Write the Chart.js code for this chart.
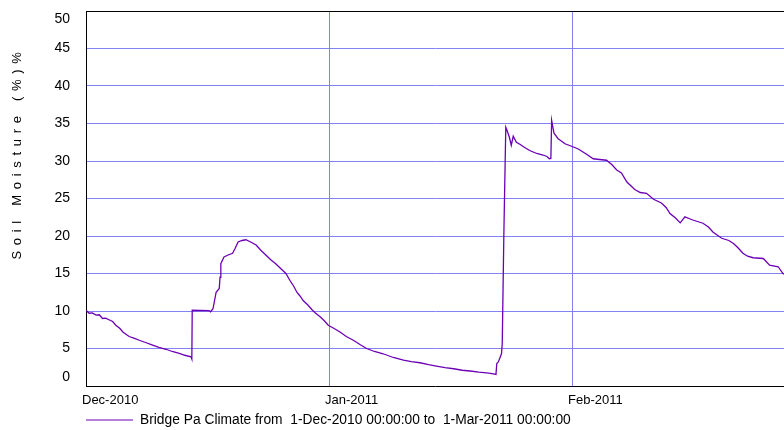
<!DOCTYPE html>
<html>
<head>
<meta charset="utf-8">
<script src="https://cdn.jsdelivr.net/npm/chart.js@4/dist/chart.umd.min.js"></script>
<style>
  html, body { margin: 0; padding: 0; background: #fff; }
  #wrap { width: 784px; height: 430px; position: relative; }
</style>
</head>
<body>
<div id="wrap"><canvas id="soilCanvas"></canvas></div>
<script>
// days since 1-Dec-2010 00:00
const days = [
  0, 0.4, 0.8, 1.3, 1.7, 2.1, 2.5, 3.0, 3.4, 3.8, 4.3, 4.7, 5.1, 5.5, 6.2, 6.8, 7.6, 8.5, 9.3, 10.2,
  11.0, 11.9, 12.6, 13.4, 13.5, 13.55, 15.7, 15.9, 16.2, 16.6, 17.0, 17.1, 17.2, 17.6, 18.2, 18.7, 19.0, 19.4, 19.9, 20.4,
  21.0, 21.7, 22.3, 23.0, 23.6, 24.2, 24.9, 25.5, 26.0, 26.5, 26.9, 27.3, 27.7, 28.3, 28.8, 29.3, 29.9, 30.4, 30.9, 31.6,
  32.4, 33.2, 34.1, 35.0, 35.8, 36.8, 37.9, 39.2, 40.5, 41.5, 42.6, 43.7, 44.7, 45.8, 46.9, 48.0, 49.0, 50.1, 51.1, 51.8,
  52.3, 52.4, 52.6, 53.0, 53.1, 53.3, 53.55, 53.7, 54.0, 54.25, 54.5, 54.9, 55.4, 55.8, 56.6, 57.5, 58.3, 58.8, 59.1, 59.3,
  59.4, 59.7, 60.2, 61.1, 62.1, 62.8, 63.4, 64.0, 64.7, 65.5, 66.4, 67.1, 67.7, 68.3, 69.0, 70.0, 70.7, 71.5, 72.4, 73.4,
  74.0, 74.5, 75.2, 75.8, 76.4, 77.0, 77.5, 78.7, 79.4, 80.0, 81.1, 82.0, 82.6, 83.2, 83.8, 84.4, 85.1, 86.4, 87.2, 88.3,
  88.9, 89.1
];
const moisture = [
  10.1, 9.7, 9.75, 9.45, 9.5, 9.0, 9.05, 8.8, 8.6, 8.1, 7.7, 7.2, 6.9, 6.6, 6.35, 6.1, 5.8, 5.45, 5.15, 4.9,
  4.6, 4.35, 4.1, 3.9, 3.6, 10.1, 10.05, 9.9, 10.3, 12.5, 13.0, 14.5, 16.3, 17.2, 17.5, 17.7, 18.3, 19.2, 19.4, 19.5,
  19.2, 18.8, 18.1, 17.4, 16.8, 16.3, 15.6, 15.0, 14.1, 13.3, 12.5, 12.0, 11.4, 10.8, 10.2, 9.7, 9.2, 8.7, 8.1, 7.7,
  7.2, 6.6, 6.1, 5.5, 5.0, 4.6, 4.3, 3.8, 3.45, 3.25, 3.1, 2.85, 2.65, 2.45, 2.3, 2.1, 2.0, 1.85, 1.75, 1.65,
  1.55, 3.0, 3.2, 4.3, 5.7, 20, 34.5, 34.1, 33.2, 32.1, 33.3, 32.5, 32.2, 31.9, 31.4, 31.0, 30.8, 30.6, 30.3, 30.35,
  35.4, 33.7, 33.0, 32.3, 31.9, 31.6, 31.2, 30.8, 30.3, 30.2, 30.1, 29.5, 28.8, 28.4, 27.2, 26.2, 25.8, 25.7, 24.9, 24.4,
  23.8, 23.0, 22.4, 21.75, 22.55, 22.3, 22.1, 21.7, 21.2, 20.5, 19.7, 19.4, 19.0, 18.4, 17.7, 17.3, 17.1, 17.0, 16.1, 15.9,
  15.0, 14.9
];

const monthTicks = [0, 31, 62];
const monthLabels = ["Dec-2010", "Jan-2011", "Feb-2011"];
const yTicks = [0, 5, 10, 15, 20, 25, 30, 35, 40, 45, 50];

const seriesLabel = "Bridge Pa Climate from  1-Dec-2010 00:00:00 to  1-Mar-2011 00:00:00";
const yTitle = "Soil Moisture (%)%";

const FONT = '"Liberation Sans", Arial, sans-serif';
const LINE_COLOR = "#6c00b4";
const GRID_COLOR = "#8282f2";
const NONE = "rgba(0,0,0,0)";

Chart.defaults.font.family = FONT;

// frame, y labels, rotated title and legend are drawn here
const decorPlugin = {
  id: "decor",
  beforeDraw(chart) {
    const c = chart.ctx;
    c.save();
    c.fillStyle = "#fff";
    c.fillRect(0, 0, chart.width, chart.height);
    c.restore();
  },
  afterDraw(chart) {
    const c = chart.ctx;
    const a = chart.chartArea;
    const ys = chart.scales.y;
    c.save();

    // top border
    c.strokeStyle = "#000";
    c.lineWidth = 1;
    c.beginPath();
    c.moveTo(a.left, a.top + 0.5);
    c.lineTo(a.right, a.top + 0.5);
    c.stroke();

    // y tick labels, end ones kept inside the plot
    c.fillStyle = "#000";
    c.font = "14px " + FONT;
    c.textAlign = "right";
    c.textBaseline = "middle";
    yTicks.forEach(v => {
      let py = ys.getPixelForValue(v);
      py = Math.min(Math.max(py, a.top + 8.5), a.bottom - 9);
      c.fillText(String(v), 70, py);
    });

    // y title
    c.save();
    c.translate(17, 156);
    c.rotate(-Math.PI / 2);
    c.font = "13px " + FONT;
    c.textAlign = "center";
    c.textBaseline = "middle";
    if ("letterSpacing" in c) c.letterSpacing = "5.7px";
    c.fillText(yTitle, 3, 0);
    c.restore();

    // legend
    c.strokeStyle = LINE_COLOR;
    c.lineWidth = 1.2;
    c.beginPath();
    c.moveTo(a.left, 420);
    c.lineTo(a.left + 47, 420);
    c.stroke();
    c.font = "13.8px " + FONT;
    c.textAlign = "left";
    c.fillText(chart.data.datasets[0].label, a.left + 54, 420);

    c.restore();
  }
};

new Chart(document.getElementById("soilCanvas"), {
  type: "line",
  data: {
    datasets: [{
      label: seriesLabel,
      data: days.map((d, i) => ({ x: d, y: moisture[i] })),
      borderColor: LINE_COLOR,
      borderWidth: 1.3,
      pointRadius: 0,
      tension: 0,
      fill: false
    }]
  },
  options: {
    responsive: true,
    maintainAspectRatio: false,
    animation: false,
    layout: { padding: { top: 11, right: 0, left: 0, bottom: 0 } },
    plugins: {
      legend: { display: false },
      tooltip: { enabled: false }
    },
    scales: {
      x: {
        type: "linear",
        min: 0,
        max: 89.04,
        afterBuildTicks: s => { s.ticks = monthTicks.map(v => ({ value: v })); },
        afterFit: s => { s.height = 44; },
        grid: {
          color: ctx => (ctx.tick && ctx.tick.value === 0) ? NONE : GRID_COLOR,
          drawTicks: false
        },
        border: { color: "#000" },
        ticks: {
          align: "start",
          labelOffset: -4,
          padding: 7,
          autoSkip: false,
          maxRotation: 0,
          color: "#000",
          font: { size: 13 },
          callback: v => monthLabels[monthTicks.indexOf(v)] || ""
        }
      },
      y: {
        min: 0,
        max: 50,
        afterFit: s => { s.width = 86; },
        grid: {
          color: ctx => (ctx.tick && (ctx.tick.value === 0 || ctx.tick.value === 50)) ? NONE : GRID_COLOR,
          drawTicks: false
        },
        border: { color: "#000" },
        ticks: { stepSize: 5, display: false }
      }
    }
  },
  plugins: [decorPlugin]
});
</script>
</body>
</html>
